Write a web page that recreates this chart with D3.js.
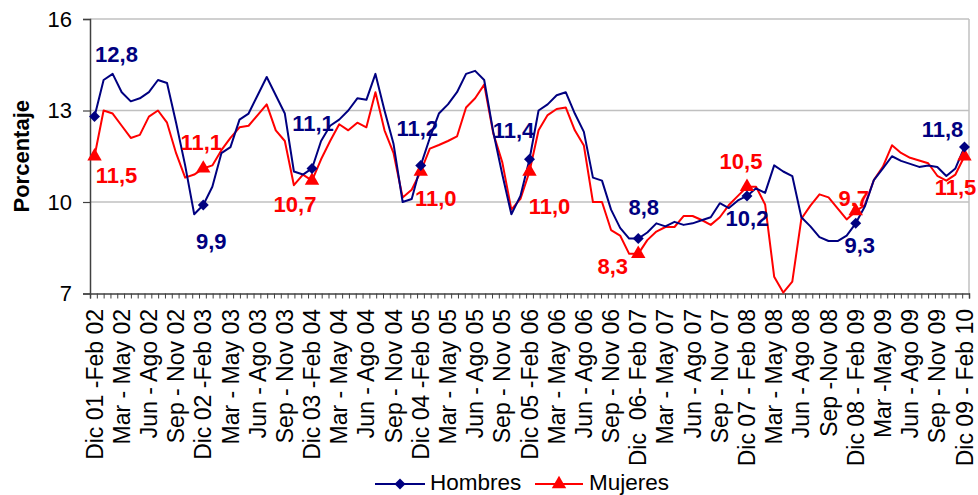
<!DOCTYPE html>
<html><head><meta charset="utf-8">
<script src="https://cdn.jsdelivr.net/npm/d3@7"></script>
<style>html,body{margin:0;padding:0;background:#fff;} svg{display:block;}</style>
</head><body><svg id="c" width="978" height="495"></svg>
<script>
// ---- data ----
const tickLabels = ["Dic 01 -Feb 02","Mar - May 02","Jun - Ago 02","Sep - Nov 02",
  "Dic 02 -Feb 03","Mar - May 03","Jun - Ago 03","Sep - Nov 03",
  "Dic 03 -Feb 04","Mar - May 04","Jun - Ago 04","Sep - Nov 04",
  "Dic 04 -Feb 05","Mar - May 05","Jun - Ago 05","Sep - Nov 05",
  "Dic 05 -Feb 06","Mar - May 06","Jun - Ago 06","Sep - Nov 06",
  "Dic  06- Feb 07","Mar - May 07","Jun - Ago 07","Sep - Nov 07",
  "Dic 07 - Feb 08","Mar - May 08","Jun - Ago 08","Sep -Nov 08",
  "Dic 08 - Feb 09","Mar -May 09","Jun - Ago 09","Sep - Nov 09",
  "Dic 09 - Feb 10"];
const hombres = [12.8,14.0,14.2,13.6,13.3,13.4,13.6,14.0,13.9,12.6,11.2,9.6,
  9.9,10.5,11.6,11.8,12.7,12.9,13.5,14.1,13.5,12.9,11.0,10.9,
  11.1,12.0,12.5,12.7,13.0,13.4,13.35,14.2,13.0,11.9,10.0,10.1,
  11.2,12.1,12.9,13.2,13.6,14.2,14.3,14.0,12.3,10.9,9.6,10.2,
  11.4,13.0,13.2,13.5,13.6,12.9,12.3,10.8,10.7,9.75,9.15,8.8,
  8.8,9.0,9.3,9.2,9.35,9.25,9.3,9.4,9.5,9.96,9.8,10.05,
  10.2,10.45,10.3,11.2,11.0,10.85,9.5,9.2,8.85,8.72,8.72,8.9,
  9.3,9.85,10.72,11.1,11.5,11.35,11.25,11.15,11.2,11.15,10.85,11.1,
  11.8];
const mujeres = [11.5,13.0,12.9,12.5,12.1,12.2,12.8,13.0,12.6,11.6,10.8,10.9,
  11.1,11.2,11.7,12.1,12.45,12.5,12.85,13.2,12.35,12.0,10.55,10.9,
  10.7,11.4,12.0,12.55,12.35,12.6,12.45,13.6,12.35,11.6,10.15,10.4,
  11.0,11.75,11.87,12.0,12.15,13.1,13.4,13.85,12.25,11.3,9.75,10.1,
  11.0,12.35,12.85,13.05,13.1,12.35,11.85,10.0,10.0,9.08,8.9,8.3,
  8.3,8.75,9.03,9.18,9.18,9.54,9.54,9.41,9.25,9.5,9.9,10.2,
  10.5,10.5,9.92,7.55,7.03,7.39,9.45,9.88,10.25,10.15,9.79,9.43,
  9.7,9.9,10.72,11.16,11.86,11.61,11.45,11.36,11.27,10.86,10.7,10.9,
  11.5];
const markerIdx = [0,12,24,36,48,60,72,84,96];
const hombresLabels = [12.8,9.9,11.1,11.2,11.4,8.8,10.2,9.3,11.8];
const mujeresLabels = [11.5,11.1,10.7,11.0,11.0,8.3,10.5,9.7,11.5];
const yTicks = [7,10,13,16];
const seriesNames = ["Hombres","Mujeres"];

// ---- layout / style ----
const hOff = [[22,-55],[8,44],[1,-37],[-3.5,-29],[-16,-21],[5.5,-24],[0,30],[4,30],[-22,-10]];
const mOff = [[22,27],[-2,-18],[-17,31],[15,34],[20,42],[-25.5,20],[-6,-18],[-2,-5],[-9,39]];
const FONT = "'Liberation Sans', Arial, sans-serif";
const NAVY = "#000080", RED = "#ff0000";
const L = 90, R = 969, T = 19, B = 293.5;
const N = hombres.length;

const svg = d3.select("#c").style("font-family", FONT);
const x = d3.scaleLinear().domain([0, N]).range([L, R]);
const y = d3.scaleLinear().domain([7, 16]).range([B, T]);
const px = i => x(i + 0.5);

// grid
svg.append("g").selectAll("line").data(yTicks.filter(v => v > 7)).join("line")
  .attr("x1", L).attr("x2", R).attr("y1", d => y(d)).attr("y2", d => y(d))
  .attr("stroke", "#c0c0c0").attr("stroke-width", 1.5);
svg.append("line").attr("x1", R).attr("x2", R).attr("y1", T).attr("y2", B)
  .attr("stroke", "#c0c0c0").attr("stroke-width", 1.5);

// y axis
const yAxis = d3.axisLeft(y).tickValues(yTicks).tickSize(7).tickPadding(11).tickFormat(d3.format("d"));
const gy = svg.append("g").attr("transform", `translate(${L},0)`).call(yAxis);
gy.select(".domain").attr("stroke", "#404040").attr("stroke-width", 1.5);
gy.selectAll(".tick line").attr("stroke", "#404040").attr("stroke-width", 1.2);
gy.selectAll(".tick text").attr("font-size", 22).attr("fill", "#000").style("font-family", FONT);

// x axis ticks
const xTickPos = d3.range(130).map(k => k * N / 129);
const xAxis = d3.axisBottom(x).tickValues(xTickPos).tickSize(5).tickFormat("");
const gx = svg.append("g").attr("transform", `translate(0,${B})`).call(xAxis);
gx.select(".domain").attr("stroke", "#404040").attr("stroke-width", 1.5);
gx.selectAll(".tick line").attr("stroke", "#404040").attr("stroke-width", 1);

// x labels
svg.append("g").selectAll("text").data(tickLabels).join("text")
  .attr("transform", (d, k) => `translate(${px(k * 3)},309) rotate(-90)`)
  .attr("dy", "0.35em").attr("text-anchor", "end")
  .attr("font-size", 23).attr("xml:space", "preserve").style("white-space", "pre").attr("fill", "#000")
  .text(d => d);

// y title
svg.append("text").attr("transform", `translate(29,${(T + B) / 2}) rotate(-90)`)
  .attr("text-anchor", "middle").attr("font-size", 22).attr("font-weight", "bold")
  .text("Porcentaje");

// lines
const line = d3.line().x((d, i) => px(i)).y(d => y(d));
svg.append("path").datum(mujeres).attr("d", line).attr("fill", "none")
  .attr("stroke", RED).attr("stroke-width", 2).attr("stroke-linejoin", "round");
svg.append("path").datum(hombres).attr("d", line).attr("fill", "none")
  .attr("stroke", NAVY).attr("stroke-width", 2).attr("stroke-linejoin", "round");

const tri = d3.symbol().type(d3.symbolTriangle).size(90);
const dia = d3.symbol().type(d3.symbolSquare).size(60);

// markers
svg.append("g").selectAll("path").data(markerIdx).join("path")
  .attr("transform", i => `translate(${px(i)},${y(mujeres[i])})`)
  .attr("d", tri()).attr("fill", RED);
svg.append("g").selectAll("path").data(markerIdx).join("path")
  .attr("d", dia()).attr("fill", NAVY)
  .attr("transform", i => `translate(${px(i)},${y(hombres[i])}) rotate(45)`);

// data labels
const fmt = v => d3.format(".1f")(v).replace(".", ",");
svg.append("g").selectAll("text").data(markerIdx).join("text")
  .attr("x", (i, k) => px(i) + hOff[k][0]).attr("y", (i, k) => y(hombres[i]) + hOff[k][1])
  .attr("text-anchor", "middle").attr("font-size", 22).attr("font-weight", "bold")
  .attr("fill", NAVY).text((i, k) => fmt(hombresLabels[k]));
svg.append("g").selectAll("text").data(markerIdx).join("text")
  .attr("x", (i, k) => px(i) + mOff[k][0]).attr("y", (i, k) => y(mujeres[i]) + mOff[k][1])
  .attr("text-anchor", "middle").attr("font-size", 22).attr("font-weight", "bold")
  .attr("fill", RED).text((i, k) => fmt(mujeresLabels[k]));

// legend
const lg = svg.append("g");
lg.append("rect").attr("x", 366).attr("y", 464).attr("width", 306).attr("height", 31).attr("fill", "#fff");
const items = [
  {name: seriesNames[0], c: NAVY, x0: 375, x1: 425, tx: 430, sym: "d"},
  {name: seriesNames[1], c: RED, x0: 535, x1: 583, tx: 589, sym: "t"}
];
items.forEach(it => {
  lg.append("line").attr("x1", it.x0).attr("x2", it.x1).attr("y1", 484).attr("y2", 484)
    .attr("stroke", it.c).attr("stroke-width", 2);
  const cx = (it.x0 + it.x1) / 2;
  if (it.sym === "d") {
    lg.append("path").attr("d", dia()).attr("transform", `translate(${cx},484) rotate(45)`).attr("fill", it.c);
  } else {
    lg.append("path").attr("d", tri()).attr("transform", `translate(${cx},484)`).attr("fill", it.c);
  }
  lg.append("text").attr("x", it.tx).attr("y", 490).attr("font-size", 22.5).text(it.name);
});
</script></body></html>
